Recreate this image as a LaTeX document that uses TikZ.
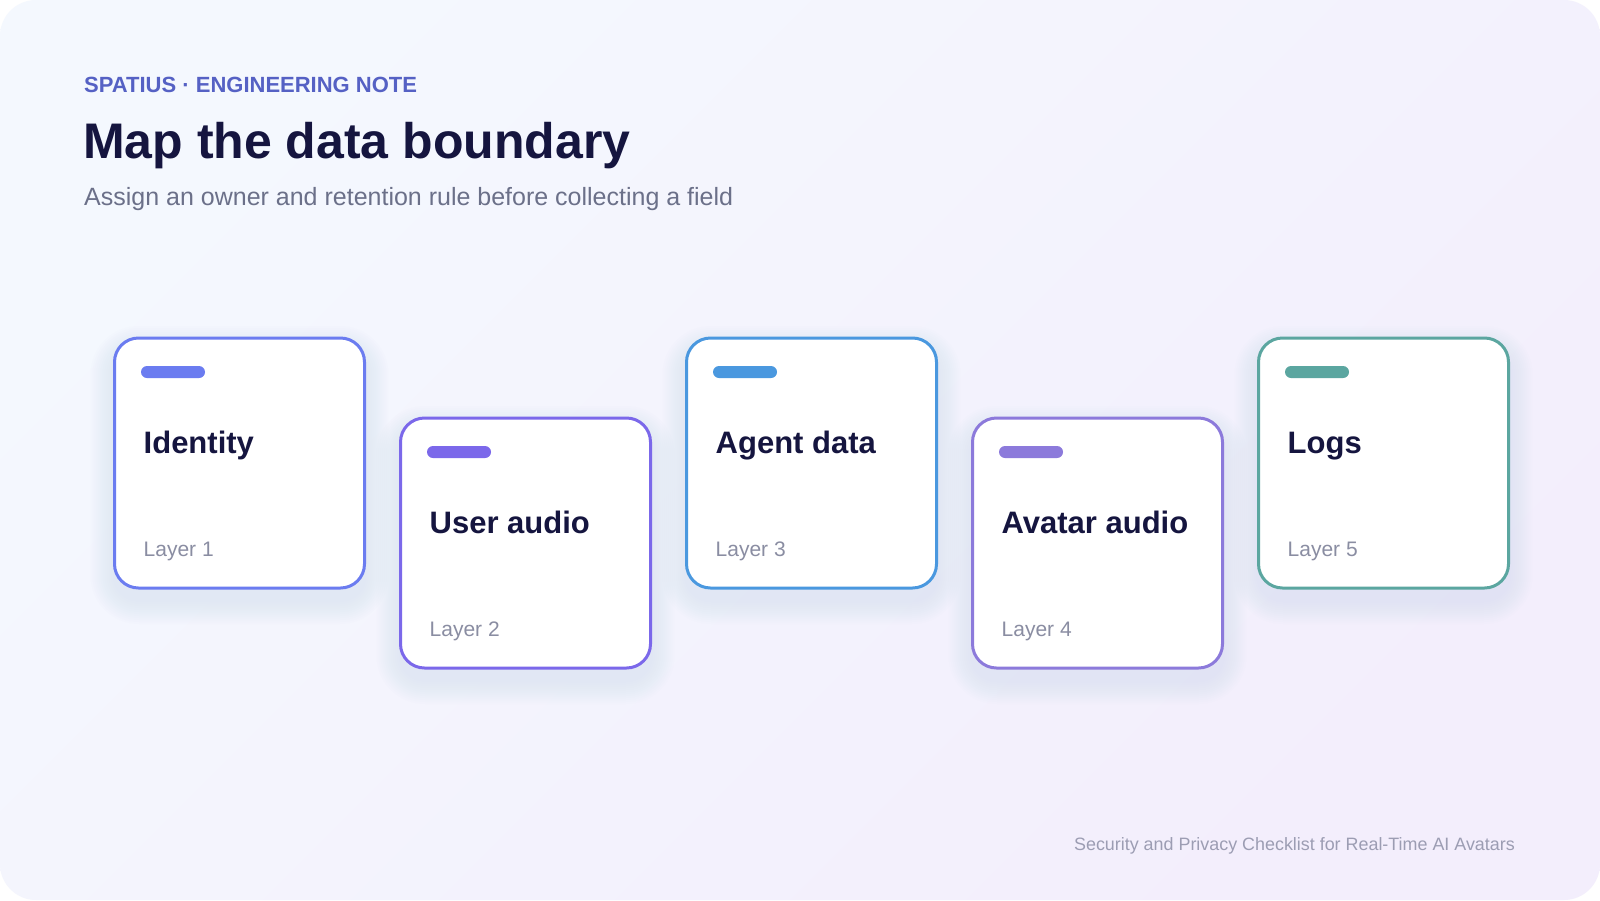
\documentclass[tikz,border=0pt]{standalone}
\usepackage{fontspec}
\setmainfont{Liberation Sans}
\definecolor{bgA}{HTML}{F4F8FE}
\definecolor{bgB}{HTML}{F3EEFC}
\definecolor{eyebrowc}{HTML}{5561C4}
\definecolor{titlec}{HTML}{15153F}
\definecolor{subc}{HTML}{6B7089}
\definecolor{cA}{HTML}{6B7CF0}
\definecolor{cB}{HTML}{7B68EA}
\definecolor{cC}{HTML}{4A98DF}
\definecolor{cD}{HTML}{8C7ADB}
\definecolor{cE}{HTML}{5BA6A0}
\definecolor{layerc}{HTML}{8A8DA2}
\definecolor{footc}{HTML}{9C9DB3}
\definecolor{shadowc}{HTML}{B4C0F4}
\begin{document}
\begin{tikzpicture}[x=1pt,y=-1pt,
  card/.style={draw=#1, line width=3pt, fill=white, rounded corners=24pt,
    minimum width=250pt, minimum height=250pt, inner sep=0pt, outer sep=0pt},
  pillbar/.style={fill=#1, rounded corners=6pt, minimum width=64pt,
    minimum height=12pt, inner sep=0pt, outer sep=0pt},
  cardtitle/.style={inner sep=0pt, text=titlec, font=\fontsize{31}{36}\selectfont\bfseries},
  layerlabel/.style={inner sep=0pt, text=layerc, font=\fontsize{21}{25}\selectfont},
  txt/.style={inner sep=0pt, anchor=base west}]
\useasboundingbox (0,0) rectangle (1600,900);
\fill[white] (0,0) rectangle (1600,900);
\shade[rounded corners=36pt, top color=bgA, bottom color=bgB, shading angle=45] (0,0) rectangle (1600,900);

\node[txt, text=eyebrowc, font=\fontsize{22}{26}\selectfont\bfseries] (eyebrow) at (84,92) {SPATIUS · ENGINEERING NOTE};
\node[txt, text=titlec, font=\fontsize{50}{58}\selectfont\bfseries] (title) at (83,158) {Map the data boundary};
\node[txt, text=subc, font=\fontsize{25}{30}\selectfont] (subtitle) at (84,205) {Assign an owner and retention rule before collecting a field};

\foreach \i/\x/\y/\col/\ttl in {1/114.5/338/cA/Identity, 2/400.5/418/cB/User audio, 3/686.5/338/cC/Agent data, 4/972.5/418/cD/Avatar audio, 5/1258.5/338/cE/Logs} {
  \foreach \k in {1,...,12} {
    \pgfmathsetmacro\rr{24+\k*2}
    \fill[shadowc, opacity=0.018, rounded corners=\rr pt] (\x-\k*2, \y+12-\k*2) rectangle (\x+250+\k*2, \y+262+\k*2);
  }
  \node[card=\col, anchor=north west] (c\i) at (\x,\y) {};
  \node[pillbar=\col, anchor=north west] (p\i) at ([xshift=26.5pt, yshift=-28pt]c\i.north west) {};
  \node[cardtitle, anchor=base west] (t\i) at ([xshift=29pt, yshift=-115pt]c\i.north west) {\ttl};
  \node[layerlabel, anchor=base west] (l\i) at ([xshift=29pt, yshift=-218pt]c\i.north west) {Layer \i};
}

\node[inner sep=0pt, anchor=base east, text=footc, font=\fontsize{17.9}{22}\selectfont] (footer) at (1515,850) {Security and Privacy Checklist for Real-Time AI Avatars};
\end{tikzpicture}
\end{document}
